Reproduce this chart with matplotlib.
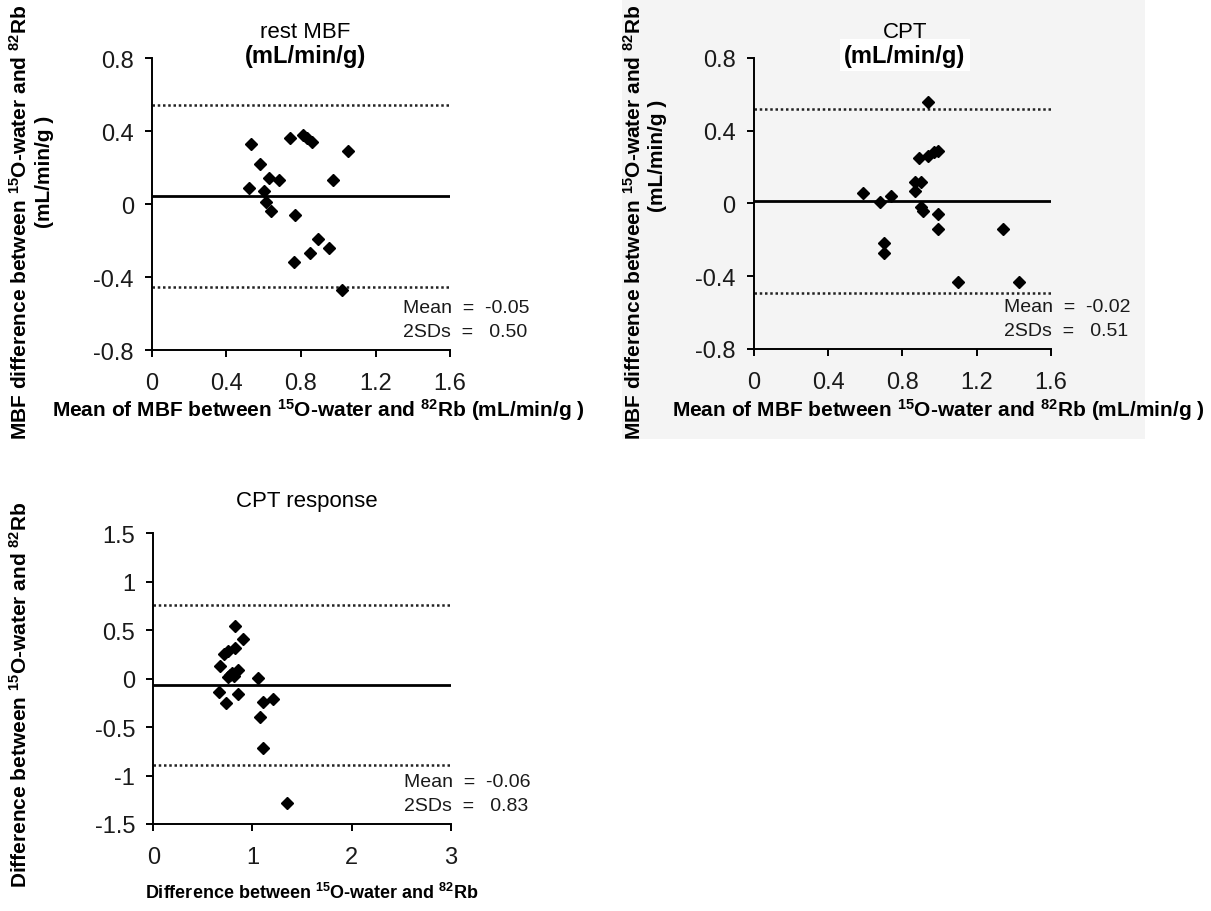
import matplotlib.pyplot as plt
from matplotlib.patches import Rectangle

plt.rcParams['font.family'] = ['Liberation Sans', 'DejaVu Sans']
plt.rcParams['mathtext.fontset'] = 'custom'
plt.rcParams['mathtext.rm'] = 'Liberation Sans'
plt.rcParams['mathtext.bf'] = 'Liberation Sans:bold'
plt.rcParams['mathtext.it'] = 'Liberation Sans:italic'

# rest MBF: mean of the two methods vs difference (mL/min/g)
rest_mean = [0.53, 0.58, 0.52, 0.60, 0.63, 0.68, 0.61, 0.64, 0.74, 0.81,
             0.83, 0.86, 0.77, 0.97, 1.05, 0.89, 0.95, 0.85, 0.76, 1.02]
rest_diff = [0.33, 0.22, 0.09, 0.07, 0.14, 0.13, 0.01, -0.04, 0.36, 0.38,
             0.36, 0.34, -0.06, 0.13, 0.29, -0.19, -0.24, -0.27, -0.32, -0.47]

# CPT
cpt_mean = [0.94, 0.89, 0.94, 0.97, 0.99, 0.87, 0.90, 0.87, 0.59, 0.68,
            0.74, 0.90, 0.91, 0.99, 0.99, 0.70, 0.70, 1.10, 1.34, 1.43]
cpt_diff = [0.56, 0.25, 0.26, 0.28, 0.29, 0.12, 0.12, 0.07, 0.06, 0.01,
            0.04, -0.02, -0.04, -0.06, -0.14, -0.22, -0.27, -0.43, -0.14, -0.43]

# CPT response
resp_x = [0.82, 0.90, 0.82, 0.75, 0.71, 0.67, 0.85, 0.77, 0.81, 0.75,
          0.79, 1.06, 0.66, 0.85, 0.73, 1.11, 1.21, 1.08, 1.11, 1.35]
resp_y = [0.54, 0.41, 0.32, 0.28, 0.25, 0.13, 0.09, 0.04, 0.03, 0.02,
          0.06, 0.01, -0.14, -0.16, -0.25, -0.24, -0.21, -0.40, -0.72, -1.28]

# mean line, +2SD, -2SD as drawn
rest_lines = [0.045, 0.545, -0.455]
cpt_lines = [0.015, 0.52, -0.495]
resp_lines = [-0.07, 0.755, -0.89]

rest_stats = ['-0.05', '0.50']
cpt_stats = ['-0.02', '0.51']
resp_stats = ['-0.06', '0.83']

sup_label = r'between $^{\mathbf{15}}$O-water and $^{\mathbf{82}}$Rb'

fig = plt.figure(figsize=(12.11, 9.12), dpi=100)
# grey backdrop behind the CPT panel
fig.patches.append(Rectangle((622 / 1211, 1 - 440 / 912), 523 / 1211, 440 / 912,
                             transform=fig.transFigure, facecolor='#f4f4f4',
                             edgecolor='none', zorder=-1))

ax1 = fig.add_axes([0.1255, 0.6151, 0.2461, 0.3202])
ax2 = fig.add_axes([0.6224, 0.6163, 0.2455, 0.3191])
ax3 = fig.add_axes([0.1266, 0.0954, 0.2456, 0.3188])


def bland_altman(ax, xs, ys, lines, stats, xlim, ylim, xticks, yticks, xlabels, ylabels):
    ax.set_facecolor('none')
    ax.axhline(lines[0], color='black', lw=2.0, zorder=2)
    for v in lines[1:]:
        ax.axhline(v, color='#222222', lw=1.8, ls=(0, (1, 1.1)), zorder=2)
    ax.plot(xs, ys, 'D', color='black', ms=6.5, clip_on=False, zorder=3)
    ax.set_xlim(*xlim)
    ax.set_ylim(*ylim)
    ax.set_xticks(xticks)
    ax.set_xticklabels(xlabels)
    ax.set_yticks(yticks)
    ax.set_yticklabels(ylabels)
    for s in ['top', 'right']:
        ax.spines[s].set_visible(False)
    for s in ['left', 'bottom']:
        ax.spines[s].set_linewidth(1.4)
    ax.tick_params(axis='both', direction='out', length=5, width=1.4,
                   labelsize=17, colors='black', labelcolor='#1a1a1a')
    ax.tick_params(axis='y', pad=8)
    ax.tick_params(axis='x', pad=11)
    ax.text(0.842, 0.147, 'Mean  =  ' + stats[0], transform=ax.transAxes,
            fontsize=14, va='center', ha='left', color='#1a1a1a')
    ax.text(0.842, 0.062, '2SDs  =   ' + stats[1], transform=ax.transAxes,
            fontsize=14, va='center', ha='left', color='#1a1a1a')


mbf_ticks = [-0.8, -0.4, 0, 0.4, 0.8]
mbf_lbls = ['-0.8', '-0.4', '0', '0.4', '0.8']
x_ticks = [0, 0.4, 0.8, 1.2, 1.6]
x_lbls = ['0', '0.4', '0.8', '1.2', '1.6']

bland_altman(ax1, rest_mean, rest_diff, rest_lines, rest_stats, (0, 1.6), (-0.8, 0.8),
             x_ticks, mbf_ticks, x_lbls, mbf_lbls)
bland_altman(ax2, cpt_mean, cpt_diff, cpt_lines, cpt_stats, (0, 1.6), (-0.8, 0.8),
             x_ticks, mbf_ticks, x_lbls, mbf_lbls)
bland_altman(ax3, resp_x, resp_y, resp_lines, resp_stats, (0, 3), (-1.5, 1.5),
             [0, 1, 2, 3], [-1.5, -1, -0.5, 0, 0.5, 1, 1.5],
             ['0', '1', '2', '3'], ['-1.5', '-1', '-0.5', '0', '0.5', '1', '1.5'])

# titles
fig.text(305 / 1211, 1 - 33 / 912, 'rest MBF', ha='center', va='center', fontsize=16)
fig.text(305 / 1211, 1 - 56 / 912, '(mL/min/g)', ha='center', va='center',
         fontsize=17, fontweight='bold')
fig.text(905 / 1211, 1 - 33 / 912, 'CPT', ha='center', va='center', fontsize=16)
fig.text(905 / 1211, 1 - 56 / 912, '(mL/min/g)', ha='center', va='center',
         fontsize=17, fontweight='bold',
         bbox=dict(facecolor='white', edgecolor='none', pad=3))
fig.text(307 / 1211, 1 - 502 / 912, 'CPT response', ha='center', va='center', fontsize=16)

# axis labels
lab = dict(fontsize=15, fontweight='bold')
fig.text(20 / 1211, 1 - 222 / 912, 'MBF difference ' + sup_label, rotation=90,
         ha='center', va='center', **lab)
fig.text(44 / 1211, 1 - 172 / 912, '(mL/min/g )', rotation=90, ha='center', va='center', **lab)
fig.text(318 / 1211, 1 - 410 / 912, 'Mean of MBF ' + sup_label + ' (mL/min/g )',
         ha='center', va='center', **lab)

fig.text(634 / 1211, 1 - 222 / 912, 'MBF difference ' + sup_label, rotation=90,
         ha='center', va='center', **lab)
fig.text(658 / 1211, 1 - 156 / 912, '(mL/min/g )', rotation=90, ha='center', va='center', **lab)
fig.text(938 / 1211, 1 - 410 / 912, 'Mean of MBF ' + sup_label + ' (mL/min/g )',
         ha='center', va='center', **lab)

fig.text(20 / 1211, 1 - 695 / 912, 'Difference ' + sup_label, rotation=90,
         ha='center', va='center', **lab)
fig.text(312 / 1211, 1 - 893 / 912, 'Difference ' + sup_label,
         ha='center', va='center', fontsize=13, fontweight='bold')

fig.savefig('out.png', dpi=100, facecolor='white')
